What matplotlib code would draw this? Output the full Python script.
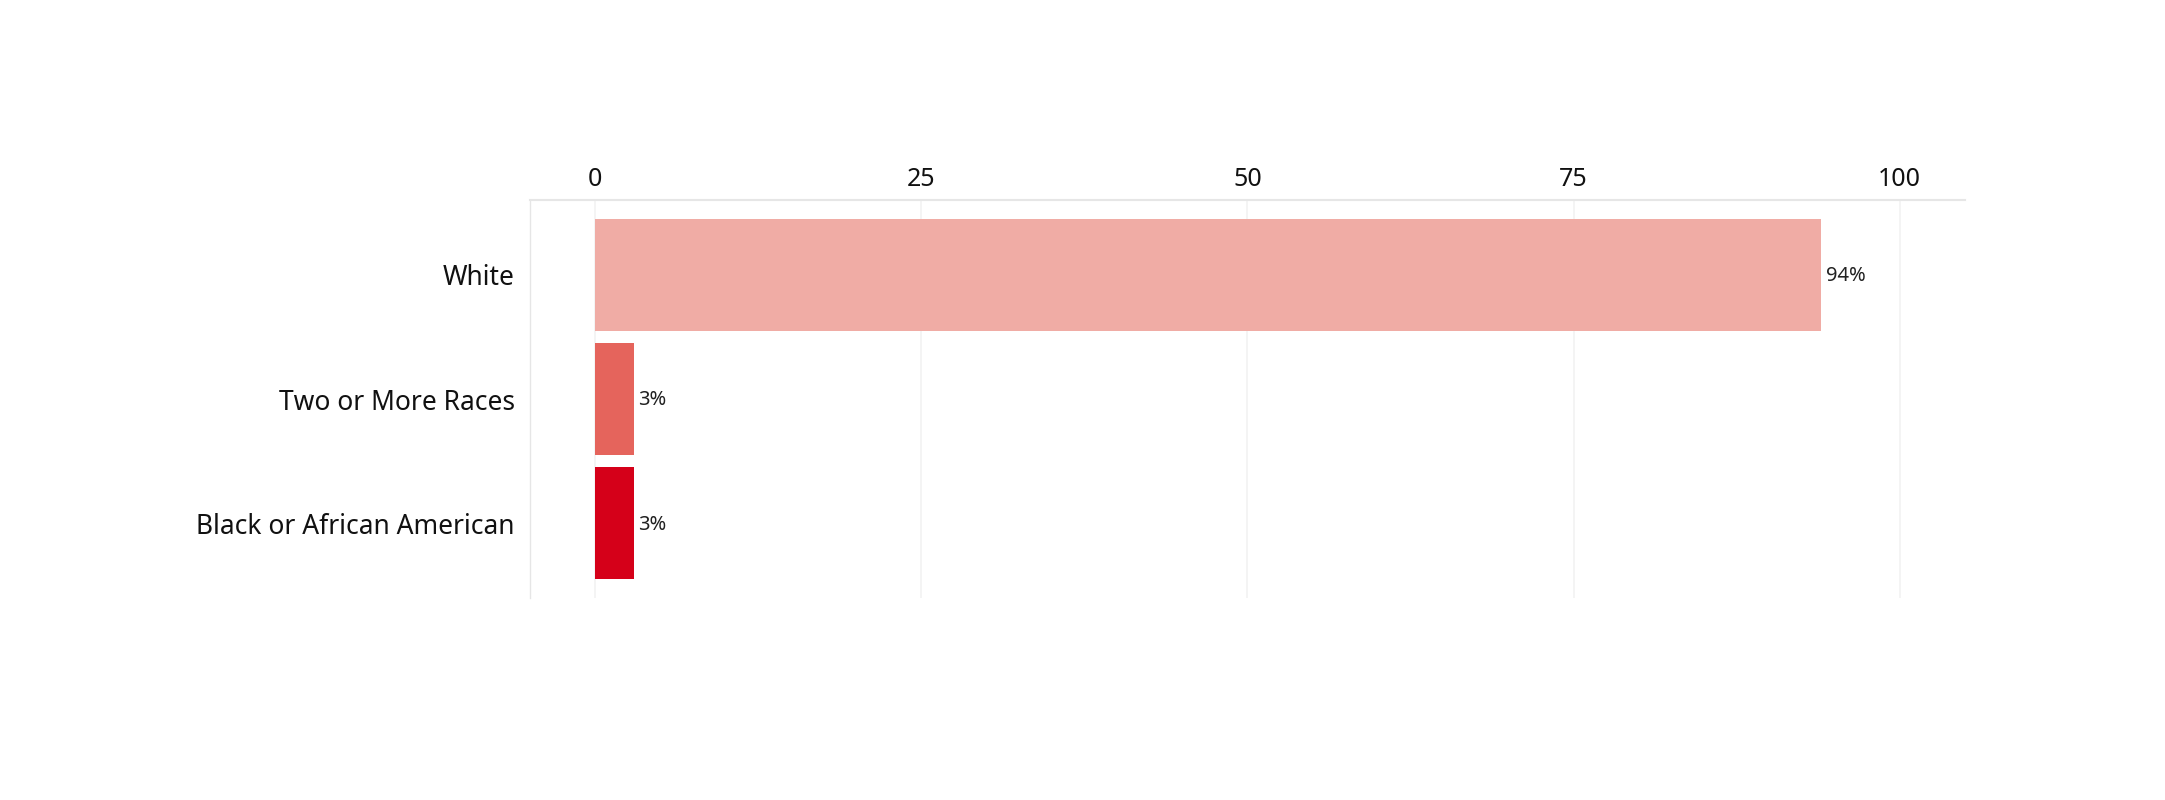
import matplotlib
matplotlib.use("Agg")
import matplotlib.pyplot as plt

categories = ["White", "Two or More Races", "Black or African American"]
values = [94, 3, 3]
value_labels = ["94%", "3%", "3%"]
colors = ["#F0ACA5", "#E5645C", "#D50019"]
xticks = [0, 25, 50, 75, 100]

plt.rcParams['font.family'] = ['Noto Sans', 'DejaVu Sans']

fig = plt.figure(figsize=(21.65, 8), dpi=100)
ax = fig.add_axes([0.2448, 0.2525, 0.9076 - 0.2448, 0.75 - 0.2525])

ypos = list(range(len(categories)))
ax.barh(ypos, values, height=0.9, color=colors, zorder=2)
for y, v, lab in zip(ypos, values, value_labels):
    ax.annotate(lab, (v, y), xytext=(3, -1), textcoords="offset points",
                va="center", ha="left", fontsize=14.5, color="#222222")

ax.set_xlim(-5, 105)
ax.set_ylim(2.6, -0.6)
ax.set_yticks(ypos)
ax.set_yticklabels(categories, fontsize=19, color="#111111")
ax.set_xticks(xticks)
ax.set_xticklabels([str(t) for t in xticks], fontsize=18, color="#111111")
ax.xaxis.tick_top()
ax.tick_params(axis="x", length=0, pad=6)
ax.tick_params(axis="y", length=0, pad=11)
ax.grid(axis="x", color="#f2f2f2", linewidth=1.2, zorder=0)
for s in ["right", "bottom"]:
    ax.spines[s].set_visible(False)
ax.spines["top"].set_color("#e6e6e6")
ax.spines["top"].set_linewidth(1.5)
ax.spines["left"].set_color("#e6e6e6")
ax.spines["left"].set_linewidth(1.0)

fig.savefig("out.png", dpi=100, facecolor="white")
